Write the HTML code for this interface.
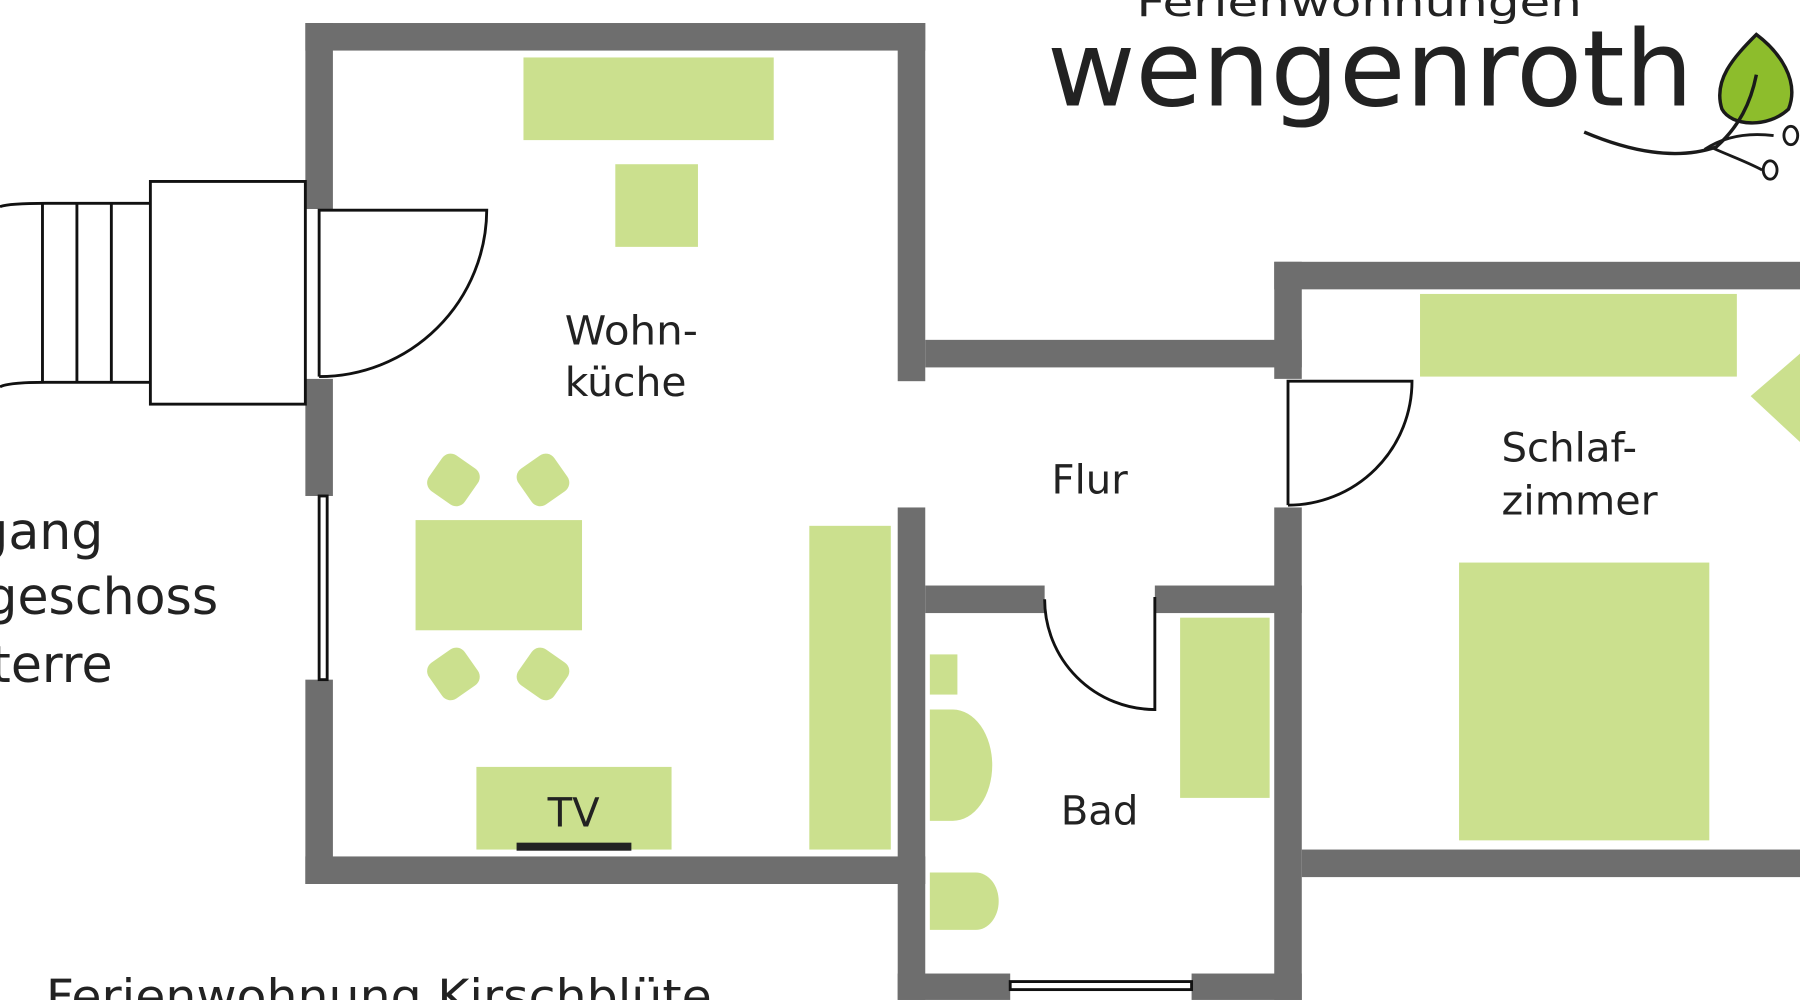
<!DOCTYPE html>
<html><head><meta charset="utf-8"><style>
html,body{margin:0;padding:0;background:#fff;width:1800px;height:1000px;overflow:hidden}
svg{display:block}
text{font-family:"DejaVu Sans","Liberation Sans",sans-serif;fill:#222}
</style></head><body>
<svg width="1800" height="1000" viewBox="0 0 1568 871" xmlns="http://www.w3.org/2000/svg">
<rect width="1568" height="871" fill="#fff"/>
<g fill="#cbe08e">
<rect x="456" y="50" width="218" height="72"/>
<rect x="536" y="143" width="72" height="72"/>
<rect x="362" y="453" width="145" height="96"/>
<rect x="376" y="399" width="38" height="38" rx="9" transform="rotate(35 395 418)"/>
<rect x="454" y="399" width="38" height="38" rx="9" transform="rotate(-35 473 418)"/>
<rect x="376" y="568" width="38" height="38" rx="9" transform="rotate(-35 395 587)"/>
<rect x="454" y="568" width="38" height="38" rx="9" transform="rotate(35 473 587)"/>
<rect x="415" y="668" width="170" height="72"/>
<rect x="705" y="458" width="71" height="282"/>
<rect x="1028" y="538" width="78" height="157"/>
<rect x="810" y="570" width="24" height="35"/>
<path d="M810 618 H830 A34 48 0 0 1 830 715 H810 Z"/>
<path d="M810 760 H850 A20 25 0 0 1 850 810 H810 Z"/>
<rect x="1237" y="256" width="276" height="72"/>
<rect x="1271" y="490" width="218" height="242"/>
<path d="M1568 308 L1525 345 L1568 385 Z"/>
</g>
<rect x="450" y="734" width="100" height="7" fill="#222"/>
<g fill="#6e6e6e">
<rect x="266" y="20" width="540" height="24"/>
<rect x="266" y="20" width="24" height="162"/>
<rect x="266" y="330" width="24" height="102"/>
<rect x="266" y="592" width="24" height="178"/>
<rect x="266" y="746" width="540" height="24"/>
<rect x="782" y="20" width="24" height="312"/>
<rect x="782" y="442" width="24" height="429"/>
<rect x="806" y="296" width="328" height="24"/>
<rect x="806" y="510" width="104" height="24"/>
<rect x="1006" y="510" width="128" height="24"/>
<rect x="1110" y="228" width="458" height="24"/>
<rect x="1110" y="228" width="24" height="102"/>
<rect x="1110" y="442" width="24" height="429"/>
<rect x="1134" y="740" width="434" height="24"/>
<rect x="782" y="848" width="98" height="23"/>
<rect x="1038" y="848" width="96" height="23"/>
</g>
<g fill="none" stroke="#111" stroke-width="2.5">
<rect x="278" y="432" width="7" height="160"/>
<rect x="880" y="855" width="158" height="7"/>
<rect x="131" y="158" width="135" height="194"/>
<path d="M131 177 H40 C20 177 5 178 0 180"/>
<path d="M131 333 H40 C20 333 5 334 0 337"/>
<path d="M37 177 V333 M67 177 V333 M97 177 V333"/>
<path d="M278 328 V183 H424 A146 146 0 0 1 278 328"/>
<path d="M1122 440 V332 H1230 A108 108 0 0 1 1122 440"/>
<path d="M1006 520 V618 A96 96 0 0 1 910 522"/>
</g>
<g font-size="35">
<text x="492" y="300" textLength="116" lengthAdjust="spacingAndGlyphs">Wohn-</text>
<text x="492" y="345" textLength="106" lengthAdjust="spacingAndGlyphs">küche</text>
<text x="916" y="430">Flur</text>
<text x="1308" y="402" textLength="118" lengthAdjust="spacingAndGlyphs">Schlaf-</text>
<text x="1308" y="448" textLength="136" lengthAdjust="spacingAndGlyphs">zimmer</text>
<text x="924" y="718">Bad</text>
<text x="477" y="720">TV</text>
</g>
<g font-size="44" text-anchor="end">
<text x="90" y="478">Eingang</text>
<text x="190" y="535">Erdgeschoss</text>
<text x="98" y="594">Parterre</text>
</g>
<text x="40" y="882" font-size="40" textLength="580" lengthAdjust="spacingAndGlyphs">Ferienwohnung Kirschblüte</text>
<text x="990" y="14" font-size="34" textLength="388" lengthAdjust="spacingAndGlyphs" fill="#222">Ferienwohnungen</text>
<text x="912" y="92" font-size="92" textLength="563" lengthAdjust="spacingAndGlyphs" fill="#1a1a1a" style="font-family:'DejaVu Sans',sans-serif;font-weight:normal">wengenroth</text>
<path d="M1530 30 C1510 50 1492 70 1500 95 C1508 110 1540 112 1558 95 C1568 70 1550 45 1530 30 Z" fill="#8dbd2c" stroke="#1a1a1a" stroke-width="3"/>
<path d="M1530 65 C1525 90 1515 110 1495 128 C1460 140 1420 132 1380 115" fill="none" stroke="#1a1a1a" stroke-width="3"/>
<path d="M1485 130 C1500 120 1520 115 1545 118 M1490 128 C1505 135 1520 140 1535 148" fill="none" stroke="#1a1a1a" stroke-width="2.5"/>
<ellipse cx="1542" cy="148" rx="6" ry="8" fill="none" stroke="#1a1a1a" stroke-width="2.5"/>
<ellipse cx="1560" cy="118" rx="6" ry="8" fill="none" stroke="#1a1a1a" stroke-width="2.5"/>
</svg>
</body></html>
